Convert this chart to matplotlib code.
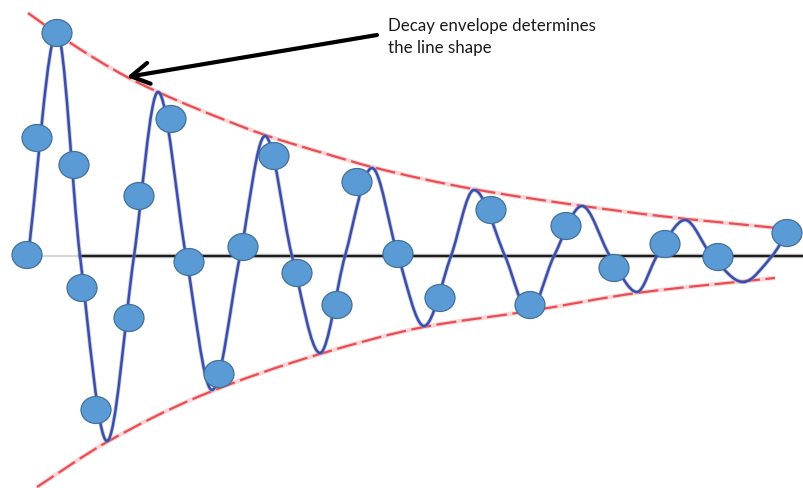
import matplotlib
matplotlib.use("Agg")
import matplotlib.pyplot as plt
import numpy as np
from matplotlib.path import Path
from matplotlib.patches import PathPatch, Ellipse

# Sampled points of the decaying signal (pixel-space coordinates)
sample_x = [27, 37, 57, 74, 82, 96, 129, 139, 171, 189, 219, 243, 274, 297,
            337, 357, 398, 440, 491, 530, 566, 614, 665, 718, 787]
sample_y = [255, 138, 33, 165, 288, 410, 318, 196, 119, 262, 374, 247, 156, 273,
            305, 182, 254, 298, 210, 305, 226, 268, 244, 257, 233]

# Key points of the continuous oscillation (peaks, troughs, zero crossings)
wave_x = [28, 57, 80, 107, 134, 158, 186, 212, 240, 265, 292, 320, 345, 372,
          398, 424, 451, 474, 505, 529, 554, 582, 610, 637, 657, 685, 712,
          743, 772, 787]
wave_y = [256, 32, 256, 441, 256, 92, 256, 390, 256, 136, 256, 353, 256, 168,
          256, 326, 256, 190, 256, 312, 256, 206, 256, 292, 256, 220, 256,
          282, 256, 233]

# Upper and lower decay envelopes
upper_x = [28, 72, 127, 158, 200, 265, 330, 372, 473, 583, 660, 777]
upper_y = [13, 44, 77, 92, 110, 135, 155, 167, 189, 206, 216, 228]
lower_x = [37, 107, 200, 320, 424, 530, 637, 775]
lower_y = [487, 442, 396, 354, 327, 311, 293, 278]

baseline_y = 256
note_lines = ["Decay envelope determines", "the line shape"]


def smooth_path(xs, ys):
    """Monotone cubic (Fritsch-Carlson) Bezier path through the given knots."""
    x = np.asarray(xs, float)
    y = np.asarray(ys, float)
    h = np.diff(x)
    d = np.diff(y) / h
    m = np.zeros_like(x)
    for i in range(1, len(x) - 1):
        if d[i - 1] * d[i] > 0:
            w1 = 2 * h[i] + h[i - 1]
            w2 = h[i] + 2 * h[i - 1]
            m[i] = (w1 + w2) / (w1 / d[i - 1] + w2 / d[i])
    m[0] = d[0]
    m[-1] = d[-1]
    verts = [(x[0], y[0])]
    codes = [Path.MOVETO]
    for i in range(len(x) - 1):
        verts += [(x[i] + h[i] / 3, y[i] + m[i] * h[i] / 3),
                  (x[i + 1] - h[i] / 3, y[i + 1] - m[i + 1] * h[i] / 3),
                  (x[i + 1], y[i + 1])]
        codes += [Path.CURVE4] * 3
    return Path(verts, codes)


fig = plt.figure(figsize=(8.04, 4.88), dpi=100)
ax = fig.add_axes([0, 0, 1, 1])
ax.set_xlim(0, 804)
ax.set_ylim(488, 0)
ax.axis("off")

# Envelopes: soft pink halo plus red dashes
for ex, ey in ((upper_x, upper_y), (lower_x, lower_y)):
    p = smooth_path(ex, ey)
    ax.add_patch(PathPatch(p, fill=False, edgecolor="#f4a6a8", lw=3.2,
                           alpha=0.45, zorder=2))
    ax.add_patch(PathPatch(p, fill=False, edgecolor="#e8343c", lw=1.6,
                           alpha=0.85, linestyle=(0, (9, 2.5)), zorder=2))

# Zero line
ax.plot([42, 80], [baseline_y, baseline_y], color="#d8d8d8", lw=1.6, zorder=1)
ax.plot([80, 804], [baseline_y, baseline_y], color="#9a9a9a", lw=3.2,
        alpha=0.6, zorder=1)
ax.plot([80, 804], [baseline_y, baseline_y], color="#1c1c1c", lw=1.6, zorder=1)

# Oscillating signal
ax.add_patch(PathPatch(smooth_path(wave_x, wave_y), fill=False,
                       edgecolor="#8c98d4", lw=3.0, alpha=0.5, zorder=3))
ax.add_patch(PathPatch(smooth_path(wave_x, wave_y), fill=False,
                       edgecolor="#3a4ea6", lw=1.8, zorder=3))

# Sample markers
for sx, sy in zip(sample_x, sample_y):
    ax.add_patch(Ellipse((sx, sy), 30, 27, facecolor="#5b9bd5",
                         edgecolor="#41719c", lw=0.9, zorder=4))

# Annotation
ax.annotate("", xy=(127, 77), xytext=(377, 35),
            arrowprops=dict(arrowstyle="->,head_length=0.65,head_width=0.38",
                            color="black", lw=3, mutation_scale=20,
                            shrinkA=0, shrinkB=0), zorder=5)
for line, base in zip(note_lines, (31, 53)):
    ax.text(388, base, line, fontsize=12.2, family="Lato", color="#1a1a1a",
            va="baseline", ha="left", zorder=5)

fig.savefig("out.png", dpi=100)
